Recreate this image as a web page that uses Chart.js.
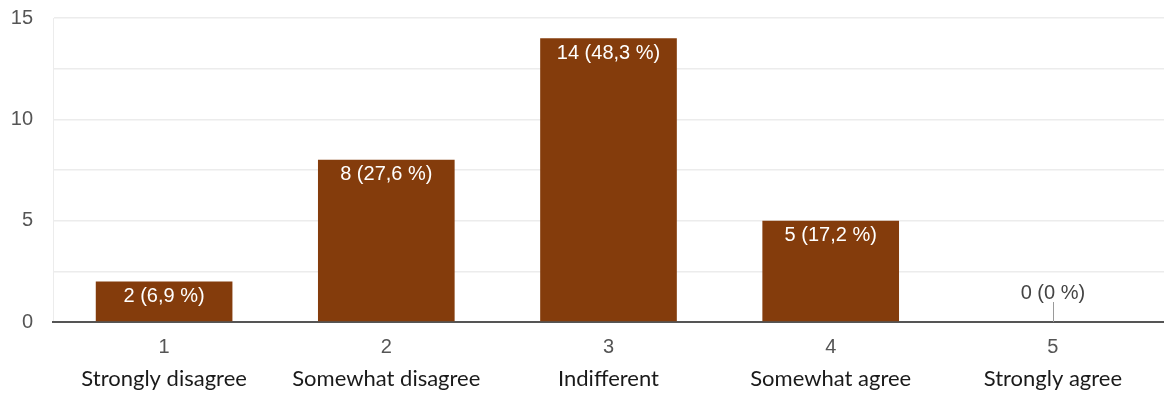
<!DOCTYPE html>
<html>
<head>
<meta charset="utf-8">
<script src="https://cdn.jsdelivr.net/npm/chart.js@4/dist/chart.umd.min.js"></script>
<style>
  html, body { margin: 0; padding: 0; background: #fff; }
  canvas { display: block; }
</style>
</head>
<body>
<canvas id="chart" width="1164" height="394"></canvas>
<script>
// Survey responses on a 1–5 scale
const scalePoints = ['1', '2', '3', '4', '5'];
const scaleNames = ['Strongly disagree', 'Somewhat disagree', 'Indifferent', 'Somewhat agree', 'Strongly agree'];
const responses = [2, 8, 14, 5, 0];
const yTickValues = [0, 5, 10, 15];

const total = responses.reduce((a, b) => a + b, 0);
const pctText = v => {
  const p = Math.round(v / total * 1000) / 10;
  return String(p).replace('.', ',');
};

const labelFont = '"Liberation Sans", Arial, sans-serif';

// Writes "count (pct %)" on each bar; empty answers get a short stem and a label above it
const valueLabels = {
  id: 'valueLabels',
  afterDatasetsDraw(chart) {
    const ctx = chart.ctx;
    const meta = chart.getDatasetMeta(0);
    const yScale = chart.scales.y;
    const base = yScale.getPixelForValue(0);
    ctx.save();
    ctx.font = '20px ' + labelFont;
    ctx.textAlign = 'center';
    ctx.textBaseline = 'middle';
    meta.data.forEach((bar, i) => {
      const v = responses[i];
      const text = v + ' (' + pctText(v) + ' %)';
      if (v > 0) {
        ctx.fillStyle = '#ffffff';
        ctx.fillText(text, bar.x, bar.y + 15);
      } else {
        ctx.strokeStyle = '#9a9a9a';
        ctx.lineWidth = 1;
        ctx.beginPath();
        ctx.moveTo(Math.round(bar.x) + 0.5, base);
        ctx.lineTo(Math.round(bar.x) + 0.5, base - 20);
        ctx.stroke();
        ctx.fillStyle = '#444444';
        ctx.fillText(text, bar.x, base - 29);
      }
    });
    ctx.restore();
  }
};

new Chart(document.getElementById('chart'), {
  type: 'bar',
  data: {
    labels: scalePoints,
    datasets: [{
      data: responses,
      backgroundColor: '#843c0c',
      borderWidth: 0,
      categoryPercentage: 1,
      barPercentage: 0.615
    }]
  },
  options: {
    responsive: false,
    animation: false,
    layout: { padding: { top: 18, right: 0, left: 0, bottom: 0 } },
    plugins: {
      legend: { display: false },
      tooltip: { enabled: false }
    },
    scales: {
      y: {
        min: 0,
        max: 15,
        afterFit(scale) { scale.width = 53; scale.paddingTop = 0; scale.paddingBottom = 0; },
        afterBuildTicks(scale) {
          const t = [];
          for (let v = 0; v <= 15; v += 2.5) t.push({ value: v });
          scale.ticks = t;
        },
        ticks: {
          callback: v => yTickValues.includes(v) ? String(v) : '',
          color: '#555555',
          font: { family: labelFont, size: 20 },
          padding: 20
        },
        grid: {
          color: '#ececec',
          lineWidth: 1.5,
          drawTicks: false
        },
        border: { display: true, color: '#ececec', width: 1 }
      },
      x: {
        afterFit(scale) { scale.height = 38; },
        ticks: {
          color: '#555555',
          font: { family: labelFont, size: 20 },
          padding: 13
        },
        grid: { display: false, drawTicks: false },
        border: { display: true, color: '#555555', width: 2 }
      },
      x2: {
        type: 'category',
        position: 'bottom',
        labels: scaleNames,
        afterFit(scale) { scale.height = 34; },
        ticks: {
          color: '#1a1a1a',
          font: { family: 'Lato, "Open Sans", sans-serif', size: 22 },
          padding: 6
        },
        grid: { display: false, drawTicks: false },
        border: { display: false }
      }
    }
  },
  plugins: [valueLabels]
});
</script>
</body>
</html>
